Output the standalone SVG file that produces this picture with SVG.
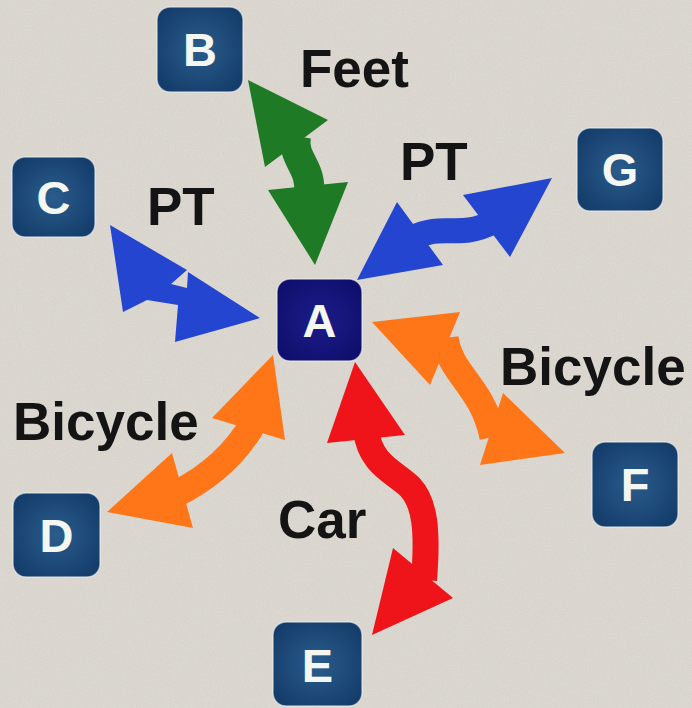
<svg xmlns="http://www.w3.org/2000/svg" width="692" height="708" viewBox="0 0 692 708">
  <defs>
    <radialGradient id="nodeFill" cx="50%" cy="50%" r="60%">
      <stop offset="0" stop-color="#2a5c8c"/>
      <stop offset="1" stop-color="#143d6b"/>
    </radialGradient>
    <radialGradient id="hubFill" cx="50%" cy="50%" r="60%">
      <stop offset="0" stop-color="#1c1c8a"/>
      <stop offset="1" stop-color="#0f0f6e"/>
    </radialGradient>
    <filter id="grain" x="0" y="0" width="100%" height="100%">
      <feTurbulence type="fractalNoise" baseFrequency="0.85" numOctaves="2" seed="7"/>
      <feColorMatrix type="saturate" values="0"/>
    </filter>
  </defs>
  <style>
    .node rect { fill: url(#nodeFill); stroke: #eef2f4; stroke-width: 1.5; stroke-opacity: 0.6; }
    #A rect { fill: url(#hubFill); }
    .node text { font-family: "Liberation Sans", Arial, sans-serif; font-weight: bold; font-size: 47px; fill: #f4f6f2; text-anchor: middle; }
    .label { font-family: "Liberation Sans", Arial, sans-serif; font-weight: bold; font-size: 53px; fill: #141414; }
    .shaft { fill: none; stroke-linecap: butt; stroke-linejoin: round; }
    .green .shaft { stroke: #1f7a26; stroke-width: 30; }
    .green polygon { fill: #1f7a26; }
    .blue .shaft { stroke: #2445cf; stroke-width: 25; }
    .blue polygon { fill: #2445cf; }
    .orange .shaft { stroke: #ff7618; stroke-width: 27; }
    .orange polygon { fill: #ff7618; }
    .red .shaft { stroke: #ee1419; stroke-width: 26; }
    .red polygon { fill: #ee1419; }
  </style>

  <!-- paper background -->
  <rect width="692" height="708" fill="#ddd9d1"/>
  <rect width="692" height="708" filter="url(#grain)" opacity="0.16"/>

  <!-- connectors: thick double-headed arrows -->
  <g id="connectors">
    <g id="edge-B-A" class="green">
      <path class="shaft" d="M296,136 C 292,160 312,166 309,194"/>
      <polygon points="248,80 328,120 265,167"/>
      <polygon points="315,265 268,190 348,182"/>
    </g>
    <g id="edge-C-A" class="blue">
      <!-- short arrow: both heads share one straight top edge, small notch between them -->
      <polygon points="110,225 187,270 171,284 187,288 188,272 260,318 175,342 178,305 147,300 123,312"/>
    </g>
    <g id="edge-G-A" class="blue">
      <path class="shaft" d="M412,238 C 445,222 458,240 493,222"/>
      <polygon points="357,280 397,202 443,265"/>
      <polygon points="552,178 463,195 510,257"/>
    </g>
    <g id="edge-F-A" class="orange">
      <path class="shaft" d="M445,338 C 450,375 482,385 493,437"/>
      <polygon points="372,322 460,312 430,385"/>
      <polygon points="565,453 503,393 480,465"/>
    </g>
    <g id="edge-D-A" class="orange">
      <path class="shaft" d="M254,422 Q 228,468 176,494"/>
      <polygon points="273,355 212,418 285,440"/>
      <polygon points="107,512 172,453 193,528"/>
    </g>
    <g id="edge-E-A" class="red">
      <path class="shaft" d="M366,430 C 370,465 395,472 410,487 C 425,503 428,530 424,580"/>
      <polygon points="355,362 327,443 405,435"/>
      <polygon points="372,635 393,548 453,598"/>
    </g>
  </g>

  <!-- transport mode labels -->
  <g id="labels">
    <text class="label" x="300" y="87">Feet</text>
    <text class="label" x="147" y="225">PT</text>
    <text class="label" x="400" y="180">PT</text>
    <text class="label" x="500" y="385">Bicycle</text>
    <text class="label" x="13" y="440">Bicycle</text>
    <text class="label" x="278" y="538">Car</text>
  </g>

  <!-- nodes -->
  <g id="A" class="node">
    <rect x="277" y="279" width="85" height="82" rx="13"/>
    <text x="319.5" y="337">A</text>
  </g>
  <g id="B" class="node">
    <rect x="157" y="7" width="86" height="85" rx="13"/>
    <text x="200" y="66">B</text>
  </g>
  <g id="C" class="node">
    <rect x="12" y="157" width="83" height="80" rx="13"/>
    <text x="53.5" y="214">C</text>
  </g>
  <g id="G" class="node">
    <rect x="577" y="128" width="86" height="83" rx="13"/>
    <text x="620" y="186">G</text>
  </g>
  <g id="D" class="node">
    <rect x="13" y="493" width="87" height="84" rx="13"/>
    <text x="56.5" y="552">D</text>
  </g>
  <g id="F" class="node">
    <rect x="592" y="442" width="86" height="85" rx="13"/>
    <text x="635" y="501">F</text>
  </g>
  <g id="E" class="node">
    <rect x="273" y="622" width="89" height="84" rx="13"/>
    <text x="317.5" y="682">E</text>
  </g>
</svg>
